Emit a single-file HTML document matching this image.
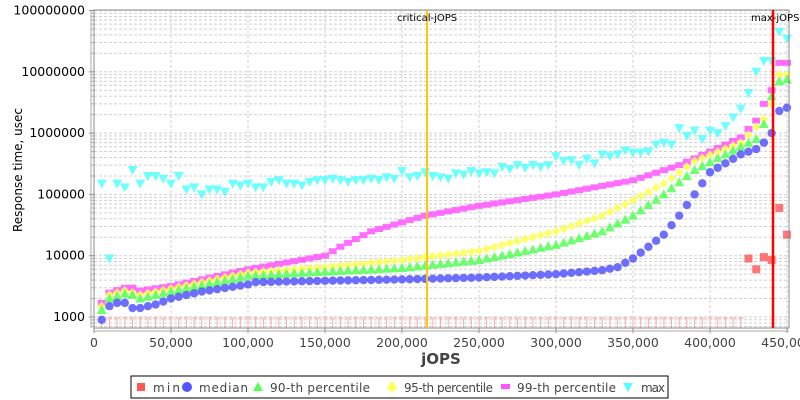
<!DOCTYPE html>
<html><head><meta charset="utf-8"><style>
html,body{margin:0;padding:0;background:#fff;}
svg{display:block;font-family:"DejaVu Sans","Liberation Sans",sans-serif;}
</style></head><body>
<svg id="s" width="800" height="400" xmlns="http://www.w3.org/2000/svg">
<rect x="0" y="0" width="800" height="400" fill="#fff"/>
<g id="grid"></g>
<g id="data"></g>
<rect x="94" y="10" width="695" height="318" fill="none" stroke="#888" stroke-width="1"/>
<line x1="427" y1="10" x2="427" y2="328" stroke="#ffc800" stroke-width="2"/>
<line x1="773" y1="10" x2="773" y2="328" stroke="#ff0000" stroke-width="2.5"/>
<text x="397" y="21" font-size="10" fill="#000">critical-jOPS</text>
<text x="751" y="21" font-size="10" fill="#000">max-jOPS</text>
<g id="ax"></g>
<text x="441" y="364" font-size="15" font-weight="bold" fill="#444" text-anchor="middle">jOPS</text>
<text transform="translate(22,170) rotate(-90)" font-size="12" fill="#000" text-anchor="middle">Response time, usec</text>
<rect x="131" y="376" width="537" height="22" fill="#fff" stroke="#000" stroke-width="1"/>
<g font-size="12" fill="#444">
<rect x="137" y="383" width="8" height="8" fill="#ff5555"/><text x="153" y="392" textLength="27">min</text>
<circle cx="187" cy="387" r="5" fill="#5555ff"/><text x="199" y="392" textLength="49">median</text>
<polygon points="258,382 263,391 253,391" fill="#55ff55"/><text x="270" y="392" textLength="100">90-th percentile</text>
<polygon points="392,381 397,387 392,393 387,387" fill="#ffff55"/><text x="404" y="392" textLength="89">95-th percentile</text>
<rect x="501" y="384" width="9" height="5" fill="#ff55ff"/><text x="517" y="392" textLength="99">99-th percentile</text>
<polygon points="623,383 633,383 628,392" fill="#55ffff"/><text x="641" y="392" textLength="24">max</text>
</g>
</svg>
<script>
var NS="http://www.w3.org/2000/svg";
function el(p,t,a){var e=document.createElementNS(NS,t);for(var k in a)e.setAttribute(k,a[k]);p.appendChild(e);return e;}
function X(v){return 94+v*0.00154;}
function Y(v){return 317-61.3*(Math.log10(v)-3);}
var g=document.getElementById('grid'),ax=document.getElementById('ax'),d=document.getElementById('data');
for(var e=2;e<=8;e++){for(var m=1;m<10;m++){var v=m*Math.pow(10,e);var y=Y(v);if(y<10||y>328)continue;
el(g,'line',{x1:94,x2:789,y1:y,y2:y,stroke:'#d0d0d0','stroke-dasharray':'3,2','stroke-width':1});
if(m==1){el(ax,'line',{x1:89,x2:94,y1:y,y2:y,stroke:'#888'});el(ax,'text',{x:85,y:y+4,'font-size':12.5,'text-anchor':'end',fill:'#000'}).textContent=String(v);}
else el(ax,'line',{x1:91,x2:94,y1:y,y2:y,stroke:'#aaa'});}}
for(var i=0;i<=9;i++){var x=X(i*50000);if(i>0&&x<789)el(g,'line',{x1:x,x2:x,y1:10,y2:328,stroke:'#d0d0d0','stroke-dasharray':'3,2'});
if(x<789){el(ax,'line',{x1:x,x2:x,y1:328,y2:333,stroke:'#888'});el(ax,'text',{x:x,y:347,'font-size':12.5,'text-anchor':'middle',fill:'#444'}).textContent=(i*50000).toLocaleString('en-US');}}
el(ax,'line',{x1:91,x2:91,y1:10,y2:328,stroke:'#aaa'});
el(ax,'line',{x1:94,x2:789,y1:331,y2:331,stroke:'#aaa'});
function interp(k,x){for(var i=0;i<k.length-1;i++){if(x>=k[i][0]&&x<=k[i+1][0]){var t=(x-k[i][0])/(k[i+1][0]-k[i][0]);return Math.pow(10,Math.log10(k[i][1])*(1-t)+Math.log10(k[i+1][1])*t);}}return k[k.length-1][1];}
var S={
med:[[5,900],[10,1500],[15,1700],[20,1700],[25,1400],[30,1400],[35,1500],[40,1600],[50,2000],[70,2600],[100,3400],[105,3700],[150,3900],[200,4100],[250,4400],[300,5000],[330,5800],[340,6500],[350,9000],[360,14000],[370,22000],[380,45000],[390,100000],[400,230000],[420,450000],[430,550000],[435,700000],[440,1000000],[445,2300000],[450,2600000]],
p90:[[5,1300],[10,2000],[20,2400],[25,2300],[30,2000],[50,2600],[100,4700],[150,5500],[200,6300],[250,8500],[300,15000],[330,25000],[350,45000],[370,100000],[390,250000],[410,450000],[430,800000],[435,1400000],[440,4000000],[445,7000000],[450,7500000]],
p95:[[5,1500],[10,2300],[20,2700],[30,2300],[50,2900],[100,5300],[150,6500],[200,8500],[250,12000],[300,25000],[330,45000],[350,80000],[370,150000],[390,350000],[420,700000],[435,1700000],[440,3000000],[445,9000000],[450,9000000]],
p99:[[5,1700],[10,2500],[20,3000],[25,3000],[30,2700],[50,3200],[100,6000],[150,10000],[160,14000],[180,25000],[200,35000],[215,45000],[250,65000],[300,100000],[350,170000],[380,300000],[400,500000],[420,850000],[430,1600000],[435,3000000],[440,5000000],[445,14000000],[450,14000000]]};
function tri(x,y,c,down){var p=down?[x-5,y-4,x+5,y-4,x,y+5]:[x,y-5,x+5,y+4,x-5,y+4];el(d,'polygon',{points:p.join(','),fill:c,'fill-opacity':0.85});}
for(var j=5;j<=420;j+=5){var x=X(j*1000);el(d,'line',{x1:x,x2:x,y1:318,y2:328,stroke:'#ffaaaa'});el(d,'line',{x1:x-3,x2:x+3,y1:318,y2:318,stroke:'#ffaaaa'});}
var maxv=[150000,9000,150000,130000,250000,150000,200000,200000,180000,150000,200000,120000,130000,100000,120000,120000,110000,150000,140000,150000,130000,130000,160000,170000,150000,150000,140000,160000,170000,170000,180000,170000,160000,170000,170000,180000,170000,190000,180000,240000,190000,200000,230000,200000,190000,180000,220000,210000,240000,220000,230000,220000,280000,260000,300000,270000,300000,280000,300000,420000,350000,360000,300000,380000,320000,450000,420000,450000,520000,480000,480000,500000,650000,700000,650000,1200000,900000,1100000,800000,1100000,1000000,1300000,1800000,2500000,4500000,10000000,15000000,15000000,45000000,35000000];
for(var j=5;j<=450;j+=5){var x=X(j*1000);
var v=maxv[j/5-1];if(v)tri(x,Y(v),'#55ffff',true);
el(d,'rect',{x:x-4,y:Y(interp(S.p99,j))-3,width:8,height:6,fill:'#ff55ff','fill-opacity':0.85});
var y95=Y(interp(S.p95,j));el(d,'polygon',{points:[x,y95-4.5,x+4.5,y95,x,y95+4.5,x-4.5,y95].join(','),fill:'#ffff55','fill-opacity':0.85});
tri(x,Y(interp(S.p90,j)),'#55ff55',false);
el(d,'circle',{cx:x,cy:Y(interp(S.med,j)),r:4.2,fill:'#5555ff','fill-opacity':0.85});}
[[425,9000],[430,6000],[435,9500],[440,8500],[445,60000],[450,22000]].forEach(function(p){var x=X(p[0]*1000),y=Y(p[1]);el(d,'rect',{x:x-4,y:y-4,width:8,height:8,fill:'#ff5555','fill-opacity':0.8});});
</script>
</body></html>
